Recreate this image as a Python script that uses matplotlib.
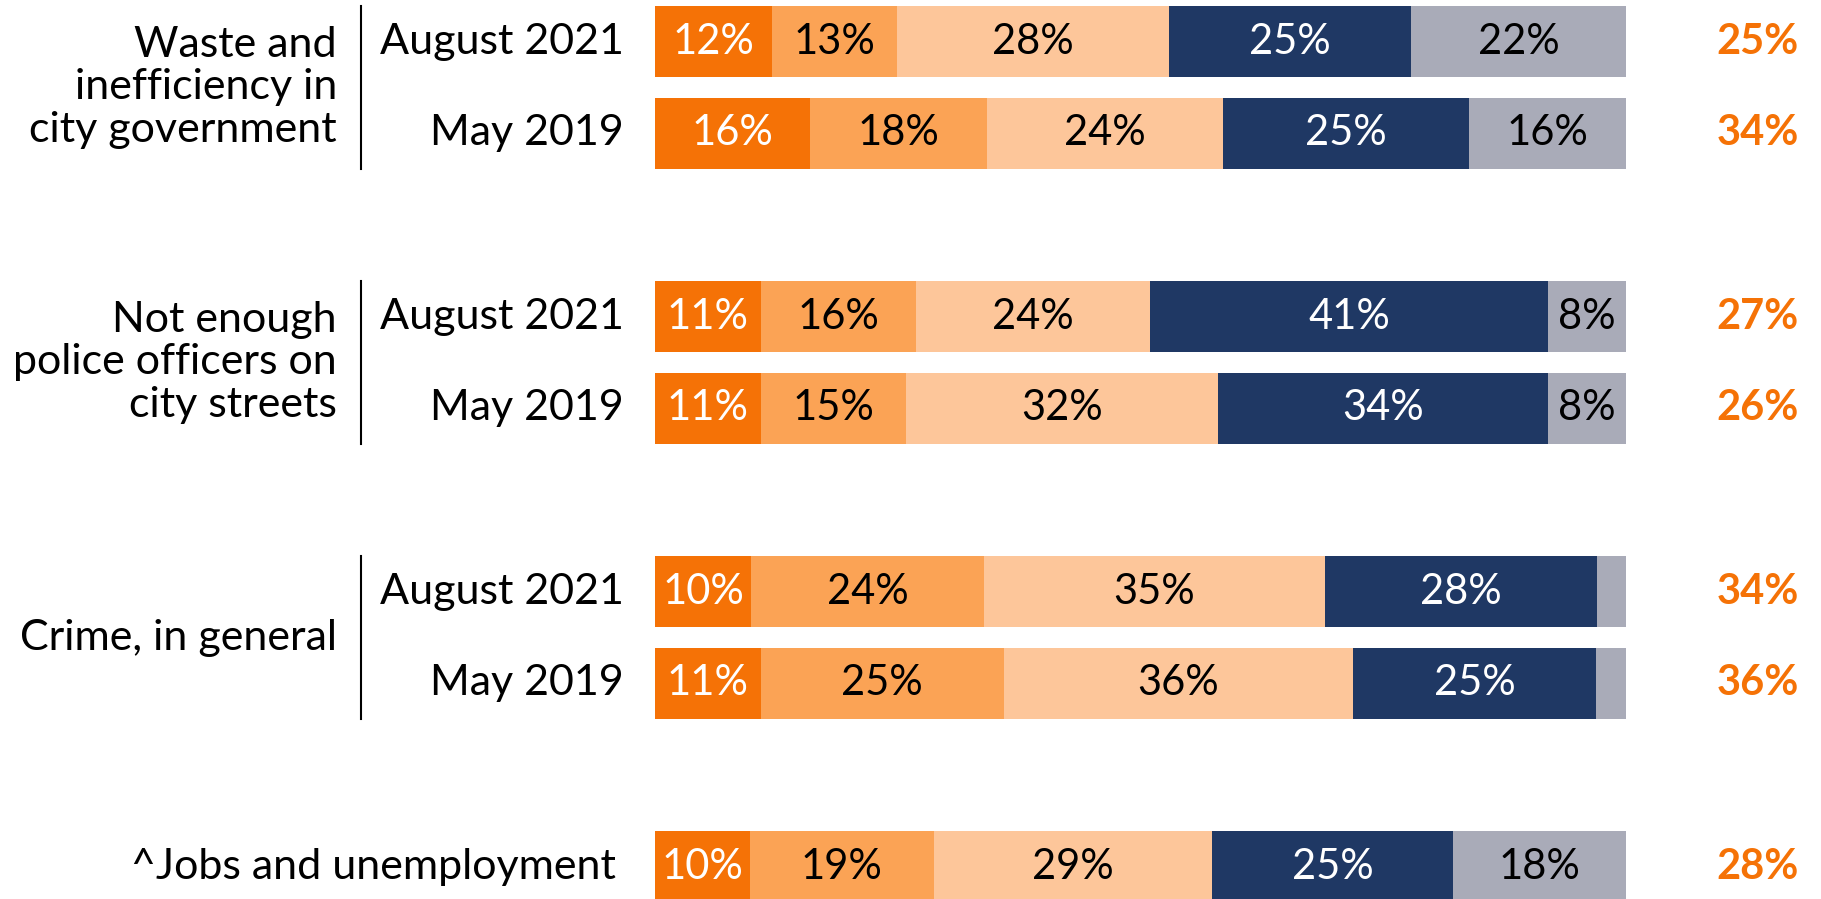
import matplotlib
matplotlib.use("Agg")
import matplotlib.pyplot as plt

FONT = "Lato"

# ---- data ----
group_labels = ["Waste and\ninefficiency in\ncity government",
                "Not enough\npolice officers on\ncity streets",
                "Crime, in general"]
row_labels = ["August 2021", "May 2019",
              "August 2021", "May 2019",
              "August 2021", "May 2019",
              "^Jobs and unemployment"]
row_pos = [0, 1, 3, 4, 6, 7, 9]
seg1 = [12.0, 16.0, 10.9, 10.9, 9.9, 10.9, 9.8]
seg2 = [12.9, 18.2, 16.0, 15.0, 24.0, 25.0, 18.9]
seg3 = [28.0, 24.3, 24.1, 32.1, 35.1, 36.0, 28.7]
seg4 = [25.0, 25.3, 41.0, 34.0, 28.0, 25.0, 24.8]
seg5 = [22.1, 16.2, 8.0, 8.0, 3.0, 3.1, 17.8]
totals = [25, 34, 27, 26, 34, 36, 28]

colors = ["#F57206", "#FBA355", "#FDC69A", "#1F3864", "#A9ABB8"]
text_colors = ["white", "black", "black", "white", "black"]
total_color = "#F57206"

W, H = 1821, 899
fig = plt.figure(figsize=(W / 100, H / 100), dpi=100)
x0_px, x1_px = 655, 1626
unit_px = 91.7
row0_px = 41.5
ax = fig.add_axes([0, 0, 1, 1])
ppu = (x1_px - x0_px) / 100.0
ax.set_xlim(-x0_px / ppu, (W - x0_px) / ppu)
ax.set_ylim((H - row0_px) / unit_px, -row0_px / unit_px)
ax.axis("off")

FS = 30
FSL = 31
segs = [seg1, seg2, seg3, seg4, seg5]
left = [0.0] * len(row_pos)
for k, s in enumerate(segs):
    ax.barh(row_pos, s, left=left, height=0.77, color=colors[k], edgecolor="none")
    for i, v in enumerate(s):
        if v >= 5:
            ax.text(left[i] + v / 2, row_pos[i], f"{round(v)}%", ha="center", va="center",
                    color=text_colors[k], fontsize=FS, family=FONT)
    left = [l + v for l, v in zip(left, s)]

def px2x(px):
    return (px - x0_px) / ppu

for i, p in enumerate(row_pos):
    xr = px2x(624) if i < 6 else px2x(616)
    ax.text(xr, p, row_labels[i], ha="right", va="center", fontsize=FSL, family=FONT)
    ax.text(px2x(1758), p, f"{totals[i]}%", ha="center", va="center", fontsize=FS,
            family=FONT, fontweight="bold", color=total_color)

for g, lab in enumerate(group_labels):
    a, b = row_pos[2 * g], row_pos[2 * g + 1]
    ax.text(px2x(337), (a + b) / 2, lab, ha="right", va="center", fontsize=FSL,
            family=FONT, linespacing=1.14)
    ax.plot([px2x(361), px2x(361)], [a - 0.385, b + 0.385], color="black", lw=1.5)

fig.savefig("out.png", dpi=100)
